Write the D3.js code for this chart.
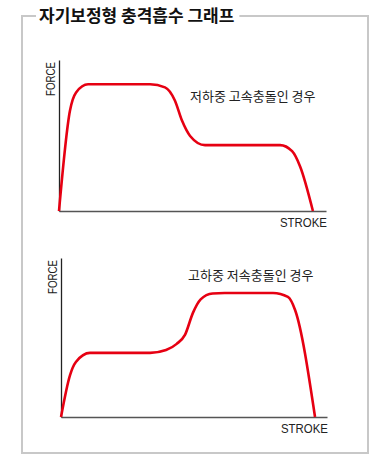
<!DOCTYPE html>
<html><head><meta charset="utf-8">
<script src="https://cdn.jsdelivr.net/npm/d3@7"></script>
<style>body{margin:0;background:#fff}</style>
</head><body>
<script>
const title = "자기보정형 충격흡수 그래프";
const panelLabels = ["저하중 고속충돌인 경우", "고하중 저속충돌인 경우"];
const axisLabelX = "STROKE";
const axisLabelY = "FORCE";
// stroke (0-100) vs force (0-100)
const strokeLow = [0, 4.1, 6.4, 10.9, 34.1, 39.7, 43.4, 46.1, 49.1, 54.7, 82.8, 87.3, 90.3, 95.1];
const forceLow  = [0, 66.4, 78.5, 83.9, 83.9, 81.9, 73.2, 59.7, 49.7, 43.6, 43.6, 39.6, 29.5, 0];
const strokeHigh = [0, 3.4, 5.6, 10.9, 33.5, 39.5, 43.5, 46.6, 49.6, 52.5, 57, 61.5, 79.7, 85.3, 88, 95.5];
const forceHigh  = [0, 26.4, 34.6, 40.3, 40.3, 42.1, 46, 51.6, 65.5, 74, 77.7, 78, 78, 75.5, 67.3, 0];

const W = 379, H = 471;
const svg = d3.select("body").append("svg").attr("width", W).attr("height", H);

// frame
const fx0 = 22, fy0 = 16, fx1 = 368, fy1 = 453;
const titleText = svg.append("text").attr("x", 39).attr("y", 22)
  .attr("font-family", "Noto Sans CJK KR").attr("font-weight", "bold")
  .attr("font-size", 17).attr("fill", "#111").text(title);
const tw = titleText.node().getComputedTextLength();
svg.append("path")
  .attr("d", `M${36},${fy0} L${fx0},${fy0} L${fx0},${fy1} L${fx1},${fy1} L${fx1},${fy0} L${39 + tw + 5},${fy0}`)
  .attr("fill", "none").attr("stroke", "#c8c8c8").attr("stroke-width", 2);

const panels = [
  {x0: 59, x1: 326, yTop: 60, yBase: 211, sx: strokeLow, fy: forceLow, label: panelLabels[0], lx: 190, ly: 101},
  {x0: 61, x1: 327, yTop: 258, yBase: 417, sx: strokeHigh, fy: forceHigh, label: panelLabels[1], lx: 188, ly: 280}
];

panels.forEach(p => {
  const x = d3.scaleLinear().domain([0, 100]).range([p.x0, p.x1]);
  const y = d3.scaleLinear().domain([0, 100]).range([p.yBase, p.yTop]);
  const g = svg.append("g");
  // axes
  g.append("g").attr("transform", `translate(0,${p.yBase})`)
    .call(d3.axisBottom(x).tickValues([]).tickSizeOuter(0))
    .call(s => s.select(".domain").attr("stroke", "#555").attr("stroke-width", 1.6));
  g.append("g").attr("transform", `translate(${p.x0},0)`)
    .call(d3.axisLeft(y).tickValues([]).tickSizeOuter(0))
    .call(s => s.select(".domain").attr("stroke", "#222").attr("stroke-width", 1.3));
  // labels
  g.append("text").attr("x", p.x1 + 1).attr("y", p.yBase + 16).attr("text-anchor", "end")
    .attr("font-family", "Liberation Sans, Arial").attr("font-size", 12.5).attr("fill", "#222")
    .attr("textLength", 47).attr("lengthAdjust", "spacingAndGlyphs").text(axisLabelX);
  g.append("text").attr("transform", `translate(${p.x0 - 4},${p.yTop + 2}) rotate(-90)`)
    .attr("text-anchor", "end").attr("font-family", "Liberation Sans, Arial").attr("font-size", 12.5)
    .attr("textLength", 34).attr("lengthAdjust", "spacingAndGlyphs")
    .attr("fill", "#222").text(axisLabelY);
  g.append("text").attr("x", p.lx).attr("y", p.ly)
    .attr("font-family", "Noto Sans CJK KR").attr("font-size", 13).attr("fill", "#222").text(p.label);
  // curve
  const data = p.sx.map((s, i) => [s, p.fy[i]]);
  g.append("path").datum(data)
    .attr("d", d3.line().x(d => x(d[0])).y(d => y(d[1])).curve(d3.curveMonotoneX))
    .attr("fill", "none").attr("stroke", "#e60012").attr("stroke-width", 2.6)
    .attr("stroke-linejoin", "round");
});
</script>
</body></html>
